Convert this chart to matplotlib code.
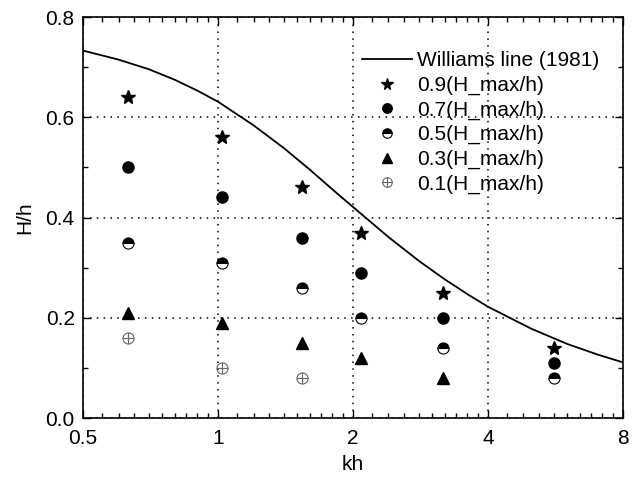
import numpy as np
import matplotlib
matplotlib.use('Agg')
import matplotlib.pyplot as plt
from matplotlib.path import Path
from matplotlib.ticker import FixedLocator, FixedFormatter, NullFormatter

plt.rcParams['font.family'] = ['Liberation Sans', 'DejaVu Sans']

# Williams line (1981)
williams_kh = [0.5, 0.6, 0.7, 0.8, 0.9, 1.0, 1.2, 1.4, 1.6, 1.8, 2.0,
               2.4, 2.8, 3.2, 3.6, 4.0, 5.0, 6.0, 7.0, 8.0]
williams_H = [0.733, 0.715, 0.696, 0.675, 0.653, 0.631, 0.584, 0.539, 0.496,
              0.456, 0.421, 0.361, 0.314, 0.277, 0.247, 0.222, 0.178, 0.148,
              0.127, 0.111]

kh_cols = [0.63, 1.02, 1.54, 2.08, 3.17, 5.61]
h09 = [0.64, 0.56, 0.46, 0.37, 0.25, 0.14]
h07 = [0.50, 0.44, 0.36, 0.29, 0.20, 0.11]
h05 = [0.35, 0.31, 0.26, 0.20, 0.14, 0.08]
h03 = [0.21, 0.19, 0.15, 0.12, 0.08]
h01 = [0.16, 0.10, 0.08]

xticks = [0.5, 1, 2, 4, 8]
xticklabels = ['0.5', '1', '2', '4', '8']
yticks = [0.0, 0.2, 0.4, 0.6, 0.8]

# circle with a plus inside
oplus = Path.make_compound_path(
    Path.unit_circle(),
    Path([[-1, 0], [1, 0]], [Path.MOVETO, Path.LINETO]),
    Path([[0, -1], [0, 1]], [Path.MOVETO, Path.LINETO]))

fig = plt.figure(figsize=(6.4, 4.79), dpi=100)
ax = fig.add_axes([0.1297, 0.1273, 0.8437, 0.8372])
ax.set_xscale('log', base=2)

ax.plot(williams_kh, williams_H, '-', color='black', lw=1.3,
        label='Williams line (1981)')
ax.plot(kh_cols, h09, '*', color='black', ms=10, ls='none',
        label='0.9(H_max/h)')
ax.plot(kh_cols, h07, 'o', color='black', ms=8, ls='none',
        label='0.7(H_max/h)')
ax.plot(kh_cols, h05, 'o', ms=8, ls='none', fillstyle='top',
        markerfacecolor='black', markerfacecoloralt='white',
        markeredgecolor='black', markeredgewidth=0.8, label='0.5(H_max/h)')
ax.plot(kh_cols[:len(h03)], h03, '^', color='black', ms=8.5, ls='none',
        label='0.3(H_max/h)')
ax.plot(kh_cols[:len(h01)], h01, marker=oplus, ms=8, ls='none',
        markerfacecolor='none', markeredgecolor='#666666', markeredgewidth=0.8,
        label='0.1(H_max/h)')

ax.set_xlim(0.5, 8)
ax.set_ylim(0.0, 0.8)
ax.xaxis.set_major_locator(FixedLocator(xticks))
ax.xaxis.set_major_formatter(FixedFormatter(xticklabels))
minors = []
for lo in [0.5, 1, 2, 4]:
    minors += [lo + lo * k / 10 for k in range(1, 10)]
ax.xaxis.set_minor_locator(FixedLocator(minors))
ax.xaxis.set_minor_formatter(NullFormatter())
ax.set_yticks(yticks)
ax.set_yticks([0.1, 0.3, 0.5, 0.7], minor=True)
ax.set_yticklabels(['%.1f' % v for v in yticks])

ax.tick_params(which='both', direction='in', top=True, right=True,
               labelsize=15, width=1)
ax.tick_params(axis='x', which='major', pad=8)
ax.tick_params(axis='y', which='major', pad=6)
ax.tick_params(which='major', length=6)
ax.tick_params(which='minor', length=3.5)
ax.grid(True, which='major', color='black', ls=(0, (1, 3.5)), lw=1.1)
for s in ax.spines.values():
    s.set_linewidth(1.2)

ax.set_xlabel('kh', fontsize=15, labelpad=5)
ax.set_ylabel('H/h', fontsize=15, labelpad=8)

leg = ax.legend(loc='upper right', frameon=False, fontsize=15,
                labelspacing=0.26, handlelength=2.4, handletextpad=0.25,
                markerscale=0.85, borderaxespad=0.0,
                bbox_to_anchor=(0.972, 0.935))

fig.savefig('out.png', dpi=100)
